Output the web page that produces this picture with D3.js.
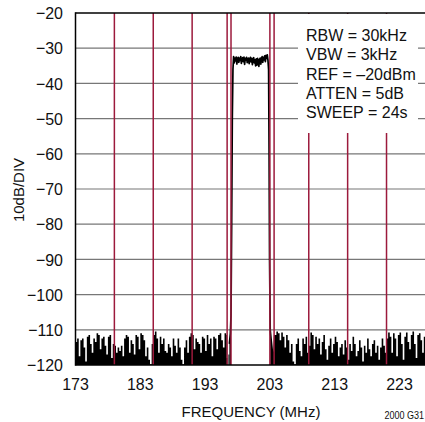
<!DOCTYPE html>
<html><head><meta charset="utf-8">
<script src="https://cdn.jsdelivr.net/npm/d3@7"></script>
<style>html,body{margin:0;padding:0;background:#fff}svg{display:block}</style>
</head><body>
<svg id="c" width="425" height="422"></svg>
<script>
const yTicks = [-20,-30,-40,-50,-60,-70,-80,-90,-100,-110,-120];
const xTicks = [173,183,193,203,213,223];
const gridFreqs = [179,185,191,197,203,209,215,221];
const markerFreqs = [196.4,203.65];
const legendLines = ["RBW = 30kHz","VBW = 3kHz","REF = \u201320dBm","ATTEN = 5dB","SWEEP = 24s"];

// noise floor left of passband, 173.00 MHz onward, 0.25 MHz per sample
const noiseLeftStart = 173, noiseStep = 0.25;
const noiseLeft = [-113.5,-112.5,-117.5,-113,-112.5,-115,-119,-112,-111.5,-114,-116.5,-112.5,-113.5,-111,-111.5,-115.5,
 -112.5,-112,-114.5,-117,-112,-111.5,-118,-114,-114.5,-116.5,-115,-116,-114.5,-117.5,-112.5,-111.5,
 -112,-116.5,-113,-114,-117,-111.5,-112,-115.5,-111,-111.5,-113,-117.5,-115,-118.5,-119.8,-114,
 -111.5,-110.5,-112.5,-116.5,-112,-114,-112.5,-116,-116.5,-114,-115,-117.5,-112.5,-114.5,-116.5,-112.5,
 -115,-118.5,-119.8,-115,-113,-116.5,-112,-111,-111.5,-115.5,-112.5,-113.5,-114,-116.5,-112,-112.5,
 -116,-111.5,-114,-112.5,-117.5,-112,-112.5,-115.5,-111.5,-111,-113,-115,-111,-111.5];
// rising skirt of passband
const leftEdgeF = [196.35,196.45,196.6,196.75,196.9,197.0,197.1,197.2,197.3];
const leftEdgeV = [-118,-120,-117,-114,-111,-106,-80,-50,-36];
// passband top, 197.40 MHz onward, 0.1 MHz per sample
const topStart = 197.4, topStep = 0.1;
const topVals = [-32.4,-34.2,-32.8,-33.6,-32.5,-34.5,-33.0,-32.6,-34.0,-32.8,
 -33.5,-32.4,-34.3,-33.0,-32.7,-33.8,-32.5,-34.6,-32.9,-33.4,
 -32.6,-34.1,-33.0,-32.8,-34.4,-33.2,-32.6,-33.9,-32.9,-34.7,
 -33.1,-32.7,-34.2,-33.3,-35.0,-33.0,-34.8,-32.9,-33.6,-35.2,
 -33.2,-32.8,-34.5,-33.0,-32.4,-34.0,-32.6,-33.3,-32.2,-33.8,
 -32.0,-32.9,-31.9,-33.4];
// falling skirt
const rightEdgeF = [202.8,202.88,202.95,203.05,203.2,203.4,203.6];
const rightEdgeV = [-36,-60,-90,-110,-113,-116.5,-119.5];
// noise floor right of passband, 203.75 MHz onward, 0.25 MHz per sample
const noiseRightStart = 203.75;
const noiseRight = [-111.5,-110.5,-111,-113,-110.8,-112,-115,-111.5,-113,-116.5,-114,-119,-119.8,-114,-112.5,-116,
 -117.5,-112.5,-114,-112,-116.5,-114.5,-110.8,-111.5,-115.5,-112,-114,-112.5,-117,-113.5,-111.5,-115.5,
 -118.5,-114.5,-112.5,-116.5,-114,-112,-113.5,-117.5,-115,-114,-117,-113,-115,-118.5,-114,-116,
 -112,-114,-117.5,-116,-113,-115,-119,-114.5,-116.5,-112.5,-115.5,-117.5,-114,-113,-116.5,-114.5,
 -118.5,-115,-112.5,-114.5,-116.5,-112.5,-110.8,-112,-116.5,-111,-112.5,-117.5,-111.5,-110.8,-114,-118.5,
 -112,-110.8,-113.5,-115.5,-111.5,-110.5,-114,-118,-111.5,-111,-113,-116.5,-112,-114];

const svg = d3.select("#c");
const x = d3.scaleLinear().domain([173,227]).range([75.5,425.4]);
const y = d3.scaleLinear().domain([-120,-20]).range([365,13]);
const FONT = "'Liberation Sans', Arial, sans-serif";

const leftPts = noiseLeft.map((v,i)=>[noiseLeftStart+i*noiseStep, v])
  .concat(leftEdgeF.map((f,i)=>[f,leftEdgeV[i]]));
const topPts = topVals.map((v,i)=>[topStart+i*topStep, v]);
const rightPts = rightEdgeF.map((f,i)=>[f,rightEdgeV[i]])
  .concat(noiseRight.map((v,i)=>[noiseRightStart+i*noiseStep, v]));

// horizontal grid
svg.append("g").selectAll("line").data(yTicks.filter(t=>t>-120 && t<-20)).join("line")
  .attr("x1", x(173)).attr("x2", 425).attr("y1", d=>y(d)).attr("y2", d=>y(d))
  .attr("stroke", "#777").attr("stroke-width", 1.2);

// noise: stepped fill
const noiseL = leftPts.filter(d=>d[0] < 196.9);
const noiseR = rightPts.filter(d=>d[0] >= 203.75);
const area = d3.area().curve(d3.curveStepAfter).x(d=>x(d[0])).y0(y(-120)).y1(d=>y(d[1]));
svg.append("path").attr("d", area(noiseL)).attr("fill", "#000");
svg.append("path").attr("d", area(noiseR)).attr("fill", "#000");
// skirts + passband as line, with skirt fill
const bandPts = leftPts.filter(d=>d[0] >= 196.75).concat(topPts, rightPts.filter(d=>d[0] < 203.8));
const skirtArea = d3.area().x(d=>x(d[0])).y0(y(-120)).y1(d=>y(d[1]));
svg.append("path").attr("d", skirtArea(leftPts.filter(d=>d[0]>=196.75 && d[0]<=197.0))).attr("fill","#000");
svg.append("path").attr("d", skirtArea(rightPts.filter(d=>d[0]>=203.05 && d[0]<203.8))).attr("fill","#000");
const line = d3.line().x(d=>x(d[0])).y(d=>y(d[1]));
svg.append("path").attr("d", line(bandPts)).attr("fill", "none")
  .attr("stroke", "#000").attr("stroke-width", 1.7).attr("stroke-linejoin", "round");

// red vertical grid
svg.append("g").selectAll("line").data(gridFreqs.concat(markerFreqs)).join("line")
  .attr("x1", d=>x(d)).attr("x2", d=>x(d)).attr("y1", y(-20)).attr("y2", y(-120))
  .attr("stroke", "#9c1a3c").attr("stroke-width", 1.5);

// legend box
svg.append("rect").attr("x", 298).attr("y", 14).attr("width", 120).attr("height", 119).attr("fill", "#fff");
svg.append("g").selectAll("text").data(legendLines).join("text")
  .attr("x", 306).attr("y", (d,i)=>41 + i*19.3)
  .attr("font-family", FONT).attr("font-size", 16).attr("fill", "#111")
  .text(d=>d);

// frame
svg.append("line").attr("x1", x(173)).attr("x2", 425).attr("y1", y(-20)).attr("y2", y(-20)).attr("stroke", "#000").attr("stroke-width", 1.5);
svg.append("line").attr("x1", x(173)).attr("x2", 425).attr("y1", y(-120)).attr("y2", y(-120)).attr("stroke", "#000").attr("stroke-width", 1.5);
svg.append("line").attr("x1", x(173)).attr("x2", x(173)).attr("y1", y(-20)-0.75).attr("y2", y(-120)+0.75).attr("stroke", "#000").attr("stroke-width", 1.5);

// y tick labels
svg.append("g").selectAll("text").data(yTicks).join("text")
  .attr("transform", d=>`translate(63,${y(d)}) scale(0.94,1)`).attr("dy", "0.36em").attr("text-anchor", "end")
  .attr("font-family", FONT).attr("font-size", 17).attr("fill", "#111")
  .text(d=>String(d).replace("-", "\u2212"));
// x tick labels
svg.append("g").selectAll("text").data(xTicks).join("text")
  .attr("transform", d=>`translate(${x(d)},390) scale(0.94,1)`).attr("text-anchor", "middle")
  .attr("font-family", FONT).attr("font-size", 17).attr("fill", "#111")
  .text(d=>d);
// axis titles
svg.append("text").attr("x", 251).attr("y", 417).attr("text-anchor", "middle")
  .attr("font-family", FONT).attr("font-size", 15).attr("fill", "#111").text("FREQUENCY (MHz)");
svg.append("text").attr("transform", "translate(24,190) rotate(-90)").attr("text-anchor", "middle")
  .attr("font-family", FONT).attr("font-size", 15).attr("fill", "#111").text("10dB/DIV");
svg.append("text").attr("transform", "translate(424,419) scale(0.86,1)").attr("text-anchor", "end")
  .attr("font-family", FONT).attr("font-size", 10.5).attr("fill", "#111").text("2000 G31");
</script>
</body></html>
